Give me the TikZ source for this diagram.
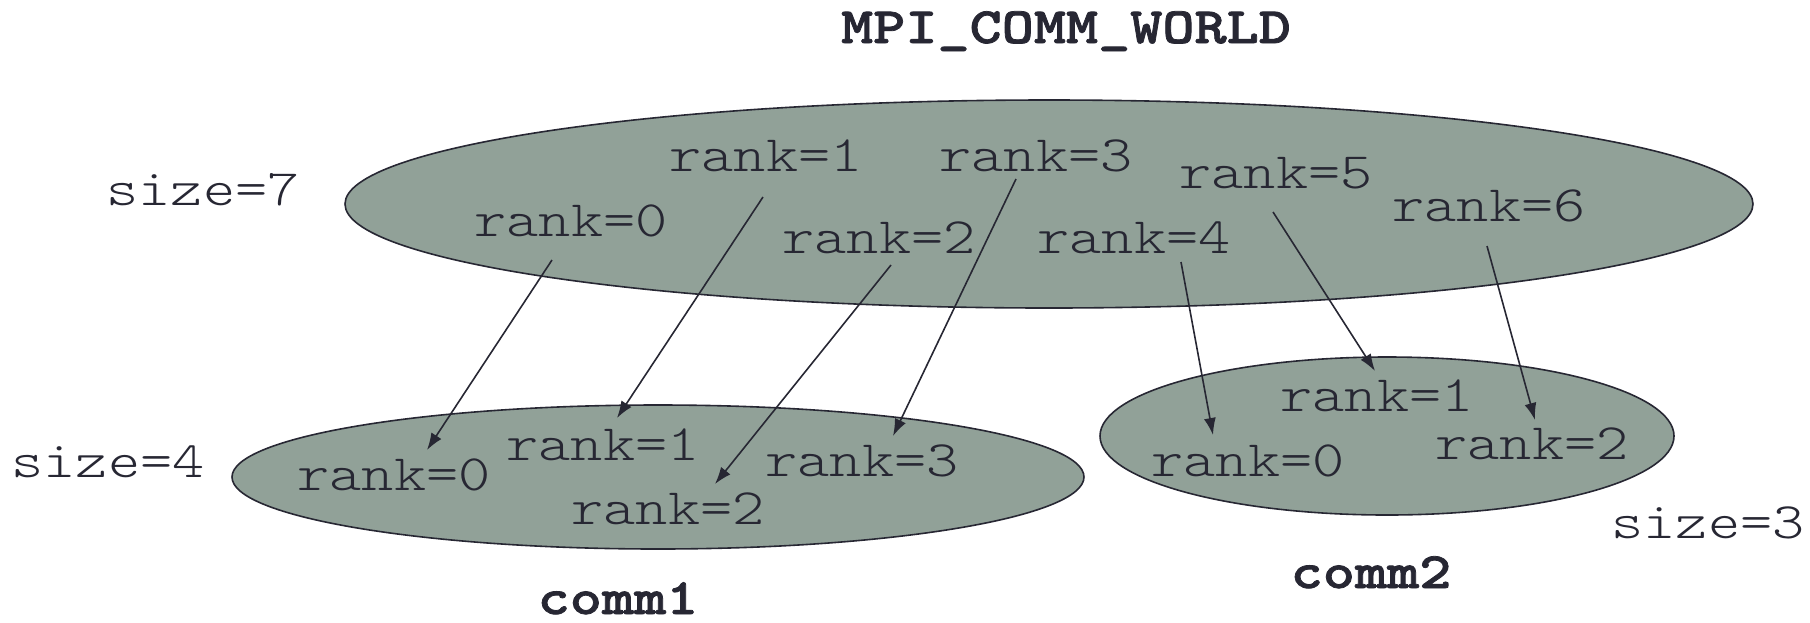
\documentclass[tikz,border=0pt]{standalone}
\usepackage{fontspec}
\newfontfamily\courfont{lmmonolt10-regular.otf}[FakeStretch=1.2,BoldFont=lmmonolt10-bold.otf,BoldFeatures={FakeBold=1.5}]
\usetikzlibrary{shapes.geometric,arrows.meta}
\definecolor{inkgray}{HTML}{272733}
\definecolor{commfill}{HTML}{91A198}
\begin{document}
\begin{tikzpicture}[x=1pt,y=-1pt,
  groupstyle/.style={ellipse,draw=inkgray,line width=1.6pt,fill=commfill,inner sep=0pt},
  rankstyle/.style={anchor=base,inner sep=0pt,text=inkgray,font=\courfont\fontsize{51}{60}\selectfont},
  namestyle/.style={rankstyle,font=\courfont\bfseries\fontsize{51}{60}\selectfont},
  mapstyle/.style={draw=inkgray,line width=1.6pt,-{Latex[length=17pt,width=12pt]}}]
\useasboundingbox (0,0) rectangle (1810,622);
\node[groupstyle,minimum width=1408pt,minimum height=208pt](world) at (1049,204){};
\node[groupstyle,minimum width=852pt,minimum height=144pt](comm1) at (658,477){};
\node[groupstyle,minimum width=574pt,minimum height=158pt](comm2) at (1387,436){};
\node[namestyle](worldname) at (1066,43){MPI\_COMM\_WORLD};
\node[namestyle](comm1name) at (618,614){comm1};
\node[namestyle](comm2name) at (1371,588){comm2};
\node[rankstyle](size7) at (203,205){size=7};
\node[rankstyle](size4) at (108,477){size=4};
\node[rankstyle](size3) at (1708,538){size=3};
\node[rankstyle](w0) at (571,236){rank=0};
\node[rankstyle](w1) at (766,171){rank=1};
\node[rankstyle](w2) at (879,253){rank=2};
\node[rankstyle](w3) at (1036,171){rank=3};
\node[rankstyle](w4) at (1134,253){rank=4};
\node[rankstyle](w5) at (1276,188){rank=5};
\node[rankstyle](w6) at (1489,221){rank=6};
\node[rankstyle](c0) at (394,490){rank=0};
\node[rankstyle](c1) at (603,460){rank=1};
\node[rankstyle](c2) at (668,524){rank=2};
\node[rankstyle](c3) at (862,476){rank=3};
\node[rankstyle](d0) at (1248,476){rank=0};
\node[rankstyle](d1) at (1377,411){rank=1};
\node[rankstyle](d2) at (1532,459){rank=2};
\draw[mapstyle] ([xshift=-19pt,yshift=-24pt]w0.base)--([xshift=33pt,yshift=40pt]c0.base);
\draw[mapstyle] ([xshift=-3pt,yshift=-26pt]w1.base)--([xshift=14pt,yshift=42pt]c1.base);
\draw[mapstyle] ([xshift=12pt,yshift=-12pt]w2.base)--([xshift=47pt,yshift=40pt]c2.base);
\draw[mapstyle] ([xshift=-20pt,yshift=-8pt]w3.base)--([xshift=31pt,yshift=40pt]c3.base);
\draw[mapstyle] ([xshift=47pt,yshift=-9pt]w4.base)--([xshift=-35pt,yshift=41pt]d0.base);
\draw[mapstyle] ([xshift=-3pt,yshift=-24pt]w5.base)--([xshift=-2pt,yshift=40pt]d1.base);
\draw[mapstyle] ([xshift=-2pt,yshift=-25pt]w6.base)--([xshift=3pt,yshift=39pt]d2.base);
\end{tikzpicture}
\end{document}
